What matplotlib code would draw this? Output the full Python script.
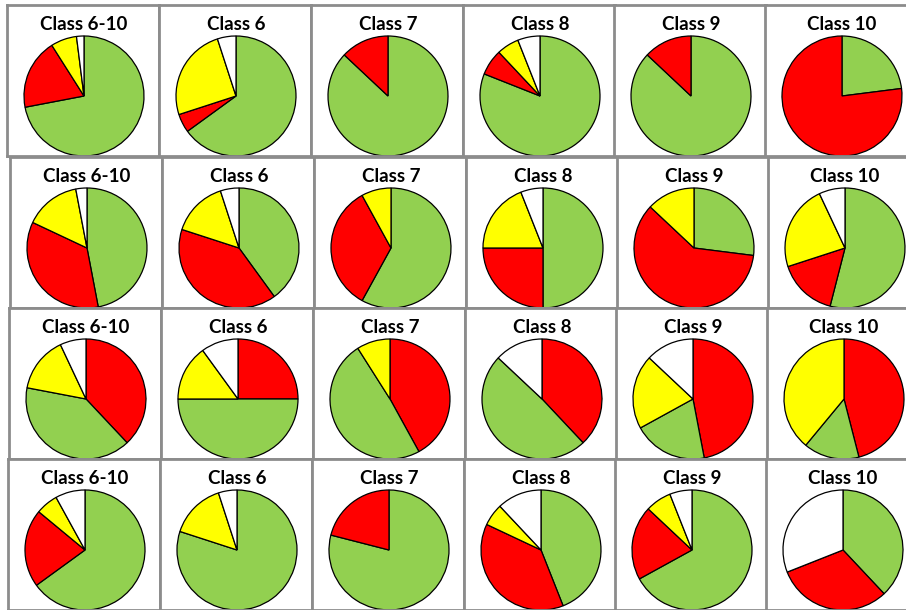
import matplotlib
matplotlib.use("Agg")
import matplotlib.pyplot as plt

classes = ["Class 6-10", "Class 6", "Class 7", "Class 8", "Class 9", "Class 10"]

colors = {"green": "#92D050", "red": "#FF0000", "yellow": "#FFFF00", "white": "#FFFFFF"}

# slice order (clockwise from 12 o'clock) for each row of pies
row_orders = [
    ["green", "red", "yellow", "white"],
    ["green", "red", "yellow", "white"],
    ["red", "green", "yellow", "white"],
    ["green", "red", "yellow", "white"],
]

# percentages per class, in the row's slice order
row1 = [[72, 19, 7, 2], [65, 5, 25, 5], [87, 13, 0, 0],
        [81, 7, 6, 6], [87, 13, 0, 0], [23, 77, 0, 0]]
row2 = [[47, 35, 15, 3], [40, 40, 15, 5], [58, 34, 8, 0],
        [50, 25, 19, 6], [27, 60, 13, 0], [54, 16, 23, 7]]
row3 = [[38, 40, 15, 7], [25, 50, 15, 10], [42, 49, 9, 0],
        [38, 49, 0, 13], [47, 20, 20, 13], [46, 15, 39, 0]]
row4 = [[65, 21, 6, 8], [80, 0, 15, 5], [79, 21, 0, 0],
        [44, 38, 6, 12], [67, 20, 7, 6], [38, 31, 0, 31]]
rows = [row1, row2, row3, row4]

W, H = 906, 610
fig = plt.figure(figsize=(W / 100, H / 100), dpi=100)
fig.patch.set_facecolor("white")

col_left = [7, 159, 311, 463, 614, 765]
row_shift = [0, 3, 2, 1]
row_top = [5, 157, 308, 459]
cell_w, cell_h = 152, 151
radius = 60

for r, row in enumerate(rows):
    for c, vals in enumerate(row):
        x0 = col_left[c] + row_shift[r]
        y0 = row_top[r]
        ax = fig.add_axes([x0 / W, 1 - (y0 + cell_h) / H, cell_w / W, cell_h / H])
        pairs = [(v, colors[k]) for v, k in zip(vals, row_orders[r]) if v > 0]
        ax.pie([p[0] for p in pairs], colors=[p[1] for p in pairs],
               startangle=90, counterclock=False, radius=radius,
               center=(77, cell_h - 91), frame=True,
               wedgeprops=dict(edgecolor="black", linewidth=0.9))
        ax.set_xlim(0, cell_w)
        ax.set_ylim(0, cell_h)
        ax.set_aspect("auto")
        ax.set_xticks([])
        ax.set_yticks([])
        for s in ax.spines.values():
            s.set_color("#8C8C8C")
            s.set_linewidth(2)
        ax.text(77, cell_h - 20, classes[c], ha="center", va="center",
                fontsize=13.5, fontweight="bold", family=["Lato", "DejaVu Sans"])

fig.savefig("out.png", dpi=100, facecolor="white")
